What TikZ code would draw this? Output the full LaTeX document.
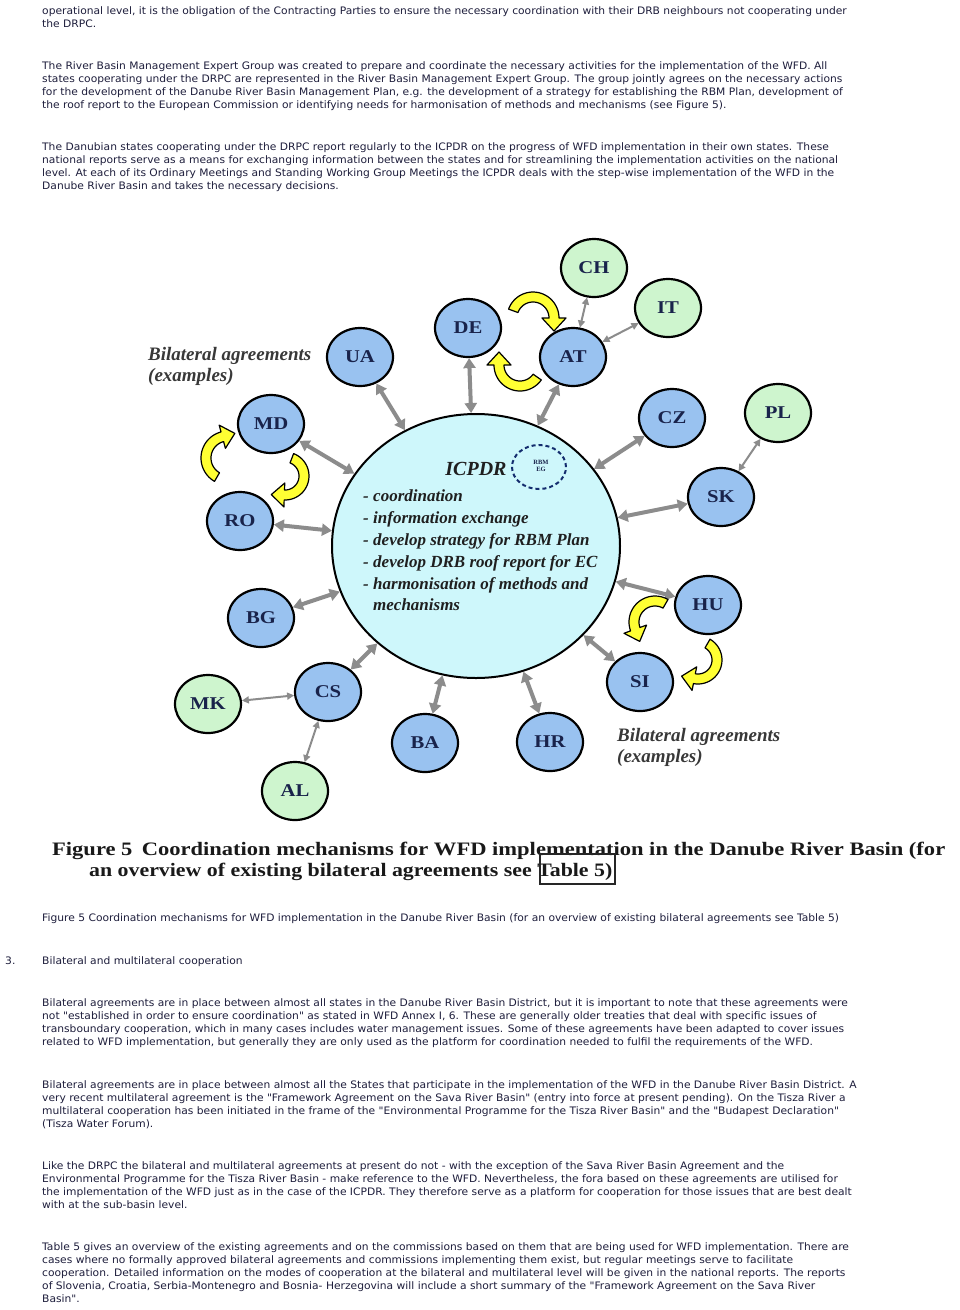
\documentclass[tikz,border=0pt]{standalone}
\usepackage{fontspec}
\usepackage{graphicx}
\usetikzlibrary{shapes.geometric,arrows.meta}
\newfontfamily\bodyfont{DejaVu Sans}[FakeStretch=1.04]
\newfontfamily\serif{Liberation Serif}
\newfontfamily\serifwide{Liberation Serif}[FakeStretch=1.15]
\definecolor{bodytext}{RGB}{30,30,60}
\definecolor{navy}{RGB}{25,35,75}
\definecolor{nodeblue}{RGB}{153,194,240}
\definecolor{nodegreen}{RGB}{206,245,206}
\definecolor{cyanfill}{RGB}{206,247,251}
\definecolor{arrowgray}{RGB}{140,140,140}
\definecolor{yfill}{RGB}{255,255,51}
\definecolor{ringblue}{RGB}{20,45,110}
\tikzset{
  body/.style={anchor=base west, inner sep=0pt, font=\bodyfont\fontsize{10.3}{13}\selectfont, text=bodytext},
  figcap/.style={anchor=base west, inner sep=0pt, font=\serifwide\bfseries\fontsize{19}{21}\selectfont, text=black!90},
  country/.style={ellipse, draw=black, line width=2.2pt, minimum width=66pt, minimum height=58pt, inner sep=0pt,
     font=\serifwide\bfseries\fontsize{18}{18}\selectfont, text=navy},
  bnode/.style={country, fill=nodeblue},
  gnode/.style={country, fill=nodegreen},
  listtxt/.style={anchor=base west, inner sep=0pt, font=\serif\bfseries\itshape\fontsize{17}{19}\selectfont, text=black!88},
  bilat/.style={anchor=base west, inner sep=0pt, font=\serif\bfseries\itshape\fontsize{19}{21}\selectfont, text=black!78},
  biarrow/.style={draw=arrowgray, line width=4pt, {Triangle[width=12pt,length=10pt]}-{Triangle[width=12pt,length=10pt]}},
  thinarrow/.style={draw=arrowgray, line width=2pt, {Triangle[width=7pt,length=7pt]}-{Triangle[width=7pt,length=7pt]}},
  yarr/.style={fill=yfill, draw=black, line width=1.2pt, line join=round}
}
\newcommand{\yarrow}[6]{%
 \filldraw[yarr] plot[domain=#4:#5,samples=30] ({#1+(#3+5)*cos(\x)},{#2+(#3+5)*sin(\x)})
 -- ({#1+(#3+12)*cos(#5)},{#2+(#3+12)*sin(#5)})
 -- ({#1+#3*cos(#5)-(#6)*sin(#5)},{#2+#3*sin(#5)+(#6)*cos(#5)})
 -- ({#1+(#3-12)*cos(#5)},{#2+(#3-12)*sin(#5)})
 -- plot[domain=#5:#4,samples=30] ({#1+(#3-5)*cos(\x)},{#2+(#3-5)*sin(\x)})
 -- cycle;}
\begin{document}
\begin{tikzpicture}[x=1pt,y=-1pt]
\useasboundingbox (0,0) rectangle (960,1310);
\fill[white] (0,0) rectangle (960,1310);

% top text
\node[body] (t1) at (42,14.5) {operational level, it is the obligation of the Contracting Parties to ensure the necessary coordination with their DRB neighbours not cooperating under};
\node[body] (t2) at (42,27.5) {the DRPC.};
\node[body] (t3) at (42,69.5) {The River Basin Management Expert Group was created to prepare and coordinate the necessary activities for the implementation of the WFD. All};
\node[body] (t4) at (42,82.5) {states cooperating under the DRPC are represented in the River Basin Management Expert Group. The group jointly agrees on the necessary actions};
\node[body] (t5) at (42,95.5) {for the development of the Danube River Basin Management Plan, e.g. the development of a strategy for establishing the RBM Plan, development of};
\node[body] (t6) at (42,108.5) {the roof report to the European Commission or identifying needs for harmonisation of methods and mechanisms (see Figure 5).};
\node[body] (t7) at (42,150.5) {The Danubian states cooperating under the DRPC report regularly to the ICPDR on the progress of WFD implementation in their own states. These};
\node[body] (t8) at (42,163.5) {national reports serve as a means for exchanging information between the states and for streamlining the implementation activities on the national};
\node[body] (t9) at (42,176.5) {level. At each of its Ordinary Meetings and Standing Working Group Meetings the ICPDR deals with the step-wise implementation of the WFD in the};
\node[body] (t10) at (42,189.5) {Danube River Basin and takes the necessary decisions.};

% central body
\node[ellipse, draw=black, line width=2pt, fill=cyanfill, minimum width=288pt, minimum height=264pt, inner sep=0pt] (icpdr) at (476,546) {};
\node[anchor=base, inner sep=0pt, font=\serif\bfseries\itshape\fontsize{20}{20}\selectfont, text=black!88] (icpdrlbl) at (476,475) {ICPDR};
\node[ellipse, draw=ringblue, line width=2pt, dash pattern=on 4pt off 3pt, minimum width=54pt, minimum height=44pt, inner sep=0pt] (rbmeg) at (539,467) {};
\node[inner sep=0pt, align=center, font=\serif\bfseries\fontsize{6.5}{7.5}\selectfont, text=navy] (rbmtxt) at (541,466) {RBM\\EG};
\node[listtxt] (d1) at (363,501) {-};
\node[listtxt] (l1) at (373,501) {coordination};
\node[listtxt] (d2) at (363,523) {-};
\node[listtxt] (l2) at (373,523) {information exchange};
\node[listtxt] (d3) at (363,545) {-};
\node[listtxt] (l3) at (373,545) {develop strategy for RBM Plan};
\node[listtxt] (d4) at (363,567) {-};
\node[listtxt] (l4) at (373,567) {develop DRB roof report for EC};
\node[listtxt] (d5) at (363,589) {-};
\node[listtxt] (l5) at (373,589) {harmonisation of methods and};
\node[listtxt] (l6) at (373,610) {mechanisms};

% countries
\node[gnode] (ch) at (594,268) {CH};
\node[gnode] (it) at (668,308) {IT};
\node[bnode] (at) at (573,357) {AT};
\node[bnode] (de) at (468,328) {DE};
\node[bnode] (ua) at (360,357) {UA};
\node[bnode] (cz) at (672,418) {CZ};
\node[gnode] (pl) at (778,413) {PL};
\node[bnode] (sk) at (721,497) {SK};
\node[bnode] (hu) at (708,605) {HU};
\node[bnode] (si) at (640,682) {SI};
\node[bnode] (hr) at (550,742) {HR};
\node[bnode] (ba) at (425,743) {BA};
\node[bnode] (cs) at (328,692) {CS};
\node[gnode] (mk) at (208,704) {MK};
\node[gnode] (al) at (295,791) {AL};
\node[bnode] (bg) at (261,618) {BG};
\node[bnode] (ro) at (240,521) {RO};
\node[bnode] (md) at (271,424) {MD};

% arrows to ICPDR
\foreach \c in {ua,de,at,cz,sk,hu,si,hr,ba,cs,bg,ro,md}
  \draw[biarrow] (\c) -- (icpdr);
% secondary arrows
\draw[thinarrow] (at) -- (ch);
\draw[thinarrow] (at) -- (it);
\draw[thinarrow] (sk) -- (pl);
\draw[thinarrow] (cs) -- (mk);
\draw[thinarrow] (cs) -- (al);

% yellow bilateral arrows
\yarrow{533}{318}{21}{200}{360}{13}
\yarrow{520}{365}{21}{35}{180}{13}
\yarrow{228}{458}{22}{120}{255}{13}
\yarrow{285}{476}{19}{291}{452}{13}
\yarrow{655}{622}{21}{300}{160}{-13}
\yarrow{698}{660}{19}{300}{461}{13}

% bilateral labels
\node[bilat] (bil1) at (148,360) {Bilateral agreements};
\node[bilat] (bil1b) at (148,381) {(examples)};
\node[bilat] (bil2) at (617,741) {Bilateral agreements};
\node[bilat] (bil2b) at (617,762) {(examples)};

% figure caption (image)
\node[figcap] (fc1) at (52,855) {\resizebox{893pt}{\height}{Figure 5\hspace{9pt}Coordination mechanisms for WFD implementation in the Danube River Basin (for}};
\node[figcap] (fc2) at (89,876) {an overview of existing bilateral agreements see Table 5)};
\draw[line width=1.2pt, black!85] (540,854) rectangle (615,884);

% caption text
\node[body] (cap) at (42,921) {Figure 5 Coordination mechanisms for WFD implementation in the Danube River Basin (for an overview of existing bilateral agreements see Table 5)};
\node[body] (secnum) at (5,964) {3.};
\node[body] (sec) at (42,964) {Bilateral and multilateral cooperation};

% lower text
\node[body] (u1) at (42,1006) {Bilateral agreements are in place between almost all states in the Danube River Basin District, but it is important to note that these agreements were};
\node[body] (u2) at (42,1019) {not "established in order to ensure coordination" as stated in WFD Annex I, 6. These are generally older treaties that deal with specific issues of};
\node[body] (u3) at (42,1032) {transboundary cooperation, which in many cases includes water management issues. Some of these agreements have been adapted to cover issues};
\node[body] (u4) at (42,1045) {related to WFD implementation, but generally they are only used as the platform for coordination needed to fulfil the requirements of the WFD.};
\node[body] (v1) at (42,1088) {Bilateral agreements are in place between almost all the States that participate in the implementation of the WFD in the Danube River Basin District. A};
\node[body] (v2) at (42,1101) {very recent multilateral agreement is the "Framework Agreement on the Sava River Basin" (entry into force at present pending). On the Tisza River a};
\node[body] (v3) at (42,1114) {multilateral cooperation has been initiated in the frame of the "Environmental Programme for the Tisza River Basin" and the "Budapest Declaration"};
\node[body] (v4) at (42,1127) {(Tisza Water Forum).};
\node[body] (w1) at (42,1169) {Like the DRPC the bilateral and multilateral agreements at present do not - with the exception of the Sava River Basin Agreement and the};
\node[body] (w2) at (42,1182) {Environmental Programme for the Tisza River Basin - make reference to the WFD. Nevertheless, the fora based on these agreements are utilised for};
\node[body] (w3) at (42,1195) {the implementation of the WFD just as in the case of the ICPDR. They therefore serve as a platform for cooperation for those issues that are best dealt};
\node[body] (w4) at (42,1208) {with at the sub-basin level.};
\node[body] (x1) at (42,1250) {Table 5 gives an overview of the existing agreements and on the commissions based on them that are being used for WFD implementation. There are};
\node[body] (x2) at (42,1263) {cases where no formally approved bilateral agreements and commissions implementing them exist, but regular meetings serve to facilitate};
\node[body] (x3) at (42,1276) {cooperation. Detailed information on the modes of cooperation at the bilateral and multilateral level will be given in the national reports. The reports};
\node[body] (x4) at (42,1289) {of Slovenia, Croatia, Serbia-Montenegro and Bosnia- Herzegovina will include a short summary of the "Framework Agreement on the Sava River};
\node[body] (x5) at (42,1302) {Basin".};
\end{tikzpicture}
\end{document}
